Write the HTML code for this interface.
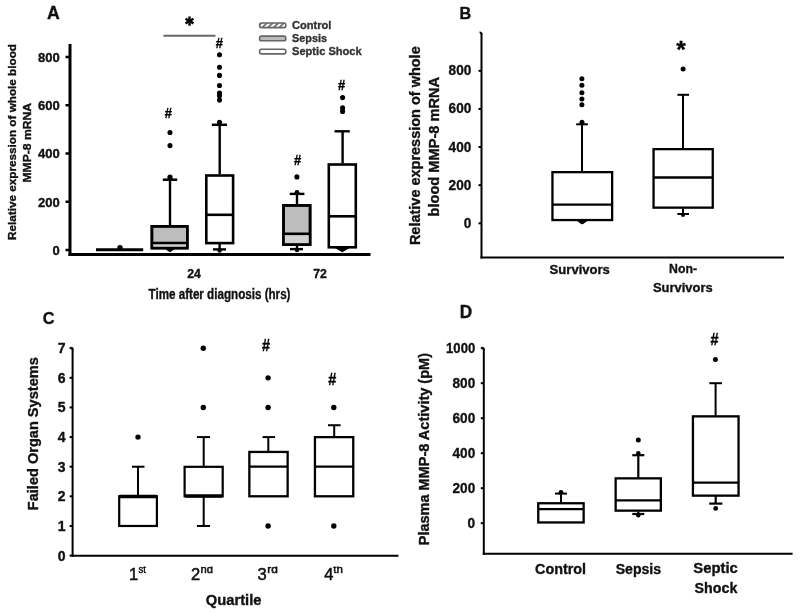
<!DOCTYPE html>
<html><head><meta charset="utf-8"><style>
html,body{margin:0;padding:0;background:#fff;width:800px;height:614px;overflow:hidden}
svg{display:block}
#w{will-change:transform;width:800px;height:614px}
text{font-family:"Liberation Sans",sans-serif}
</style></head><body>
<div id="w"><svg width="800" height="614" viewBox="0 0 800 614">
<rect width="800" height="614" fill="#fff"/>
<text x="47" y="18.6" font-size="18.5" font-weight="bold" text-anchor="start" fill="#111" stroke="#111" stroke-width="0.35" textLength="12.8" lengthAdjust="spacingAndGlyphs">A</text>
<line x1="70" y1="44" x2="70" y2="256" stroke="#000" stroke-width="3"/>
<line x1="68.5" y1="254.5" x2="370.5" y2="254.5" stroke="#000" stroke-width="3"/>
<line x1="65.5" y1="250.0" x2="70" y2="250.0" stroke="#000" stroke-width="2.5"/>
<text x="59.8" y="254.8" font-size="13" font-weight="bold" text-anchor="end" fill="#111" stroke="#111" stroke-width="0.35">0</text>
<line x1="65.5" y1="201.75" x2="70" y2="201.75" stroke="#000" stroke-width="2.5"/>
<text x="59.8" y="206.55" font-size="13" font-weight="bold" text-anchor="end" fill="#111" stroke="#111" stroke-width="0.35">200</text>
<line x1="65.5" y1="153.5" x2="70" y2="153.5" stroke="#000" stroke-width="2.5"/>
<text x="59.8" y="158.3" font-size="13" font-weight="bold" text-anchor="end" fill="#111" stroke="#111" stroke-width="0.35">400</text>
<line x1="65.5" y1="105.25" x2="70" y2="105.25" stroke="#000" stroke-width="2.5"/>
<text x="59.8" y="110.05" font-size="13" font-weight="bold" text-anchor="end" fill="#111" stroke="#111" stroke-width="0.35">600</text>
<line x1="65.5" y1="57.0" x2="70" y2="57.0" stroke="#000" stroke-width="2.5"/>
<text x="59.8" y="61.8" font-size="13" font-weight="bold" text-anchor="end" fill="#111" stroke="#111" stroke-width="0.35">800</text>
<text x="194" y="278.3" font-size="13" font-weight="bold" text-anchor="middle" fill="#111" stroke="#111" stroke-width="0.35" textLength="13.6" lengthAdjust="spacingAndGlyphs">24</text>
<text x="320" y="278.3" font-size="13" font-weight="bold" text-anchor="middle" fill="#111" stroke="#111" stroke-width="0.35" textLength="13.6" lengthAdjust="spacingAndGlyphs">72</text>
<text x="148.5" y="298.8" font-size="14" font-weight="bold" text-anchor="start" fill="#111" stroke="#111" stroke-width="0.35" textLength="142" lengthAdjust="spacingAndGlyphs">Time after diagnosis (hrs)</text>
<text x="15.8" y="240" font-size="11.6" font-weight="bold" text-anchor="start" fill="#111" stroke="#111" stroke-width="0.35" textLength="196" lengthAdjust="spacingAndGlyphs" transform="rotate(-90 15.8 240)">Relative expression of whole blood</text>
<text x="30.8" y="182.5" font-size="11.6" font-weight="bold" text-anchor="start" fill="#111" stroke="#111" stroke-width="0.35" textLength="79.5" lengthAdjust="spacingAndGlyphs" transform="rotate(-90 30.8 182.5)">MMP-8 mRNA</text>
<line x1="163.4" y1="35.7" x2="215.5" y2="35.7" stroke="#666" stroke-width="2"/>
<line x1="189.5" y1="16.5" x2="189.5" y2="25.7" stroke="#000" stroke-width="2.4"/>
<line x1="185.52" y1="18.8" x2="193.48" y2="23.4" stroke="#000" stroke-width="2.4"/>
<line x1="193.48" y1="18.8" x2="185.52" y2="23.4" stroke="#000" stroke-width="2.4"/>
<circle cx="189.5" cy="21.1" r="2.2" fill="#000"/>
<defs><pattern id="hatch" width="4" height="4" patternUnits="userSpaceOnUse" patternTransform="rotate(45)"><rect width="4" height="4" fill="#fff"/><rect width="2" height="4" fill="#777"/></pattern></defs>
<rect x="259.6" y="23.0" width="26.2" height="4.6" rx="1.8" fill="url(#hatch)" stroke="#666" stroke-width="1.6"/>
<text x="292" y="28.8" font-size="11" font-weight="bold" text-anchor="start" fill="#333" stroke="#333" stroke-width="0.35" textLength="39.4" lengthAdjust="spacingAndGlyphs">Control</text>
<rect x="259.6" y="36.15" width="26.2" height="4.6" rx="1.8" fill="#bbb" stroke="#666" stroke-width="1.6"/>
<text x="292" y="41.95" font-size="11" font-weight="bold" text-anchor="start" fill="#333" stroke="#333" stroke-width="0.35" textLength="35" lengthAdjust="spacingAndGlyphs">Sepsis</text>
<rect x="259.6" y="49.300000000000004" width="26.2" height="4.6" rx="1.8" fill="#fff" stroke="#666" stroke-width="1.6"/>
<text x="292" y="55.10000000000001" font-size="11" font-weight="bold" text-anchor="start" fill="#333" stroke="#333" stroke-width="0.35" textLength="69.7" lengthAdjust="spacingAndGlyphs">Septic Shock</text>
<line x1="96" y1="249.7" x2="143.2" y2="249.7" stroke="#000" stroke-width="3"/>
<circle cx="120" cy="247.6" r="2.7" fill="#000"/>
<rect x="151.9" y="226.3" width="35.4" height="21.800000000000004" fill="#bdbdbd" stroke="#000" stroke-width="2.6"/>
<rect x="152" y="244.3" width="35.3" height="2.6" fill="#d2d2d2"/>
<line x1="151.9" y1="243" x2="187.3" y2="243" stroke="#000" stroke-width="2.6"/>
<rect x="151.9" y="226.3" width="35.4" height="21.800000000000004" fill="none" stroke="#000" stroke-width="2.6"/>
<line x1="170" y1="225" x2="170" y2="179.7" stroke="#000" stroke-width="2.4"/>
<line x1="162.8" y1="179.7" x2="177.2" y2="179.7" stroke="#000" stroke-width="2.5"/>
<circle cx="170" cy="177.2" r="2.6" fill="#000"/>
<circle cx="170" cy="132.5" r="2.55" fill="#000"/>
<circle cx="170" cy="145.6" r="2.55" fill="#000"/>
<text x="168.3" y="118.3" font-size="14" font-weight="bold" text-anchor="middle" fill="#000" stroke="#000" stroke-width="0.35" textLength="7.2" lengthAdjust="spacingAndGlyphs">#</text>
<path d="M163.5,248 L176.2,248 L170,252.3 Z" fill="#000"/>
<rect x="206.3" y="175.5" width="26.800000000000004" height="67.60000000000002" fill="#fff" stroke="#000" stroke-width="2.6"/>
<line x1="206.3" y1="214.8" x2="233.1" y2="214.8" stroke="#000" stroke-width="2.6"/>
<line x1="219.7" y1="174.2" x2="219.7" y2="124.8" stroke="#000" stroke-width="2.4"/>
<line x1="211.8" y1="124.8" x2="227" y2="124.8" stroke="#000" stroke-width="2.5"/>
<circle cx="219.5" cy="54.7" r="2.55" fill="#000"/>
<circle cx="219.5" cy="67.2" r="2.55" fill="#000"/>
<circle cx="219.5" cy="75.4" r="2.55" fill="#000"/>
<circle cx="219.5" cy="85.5" r="2.55" fill="#000"/>
<circle cx="219.5" cy="93" r="2.55" fill="#000"/>
<circle cx="219.5" cy="95.7" r="2.55" fill="#000"/>
<circle cx="219.5" cy="100.1" r="2.55" fill="#000"/>
<circle cx="219.5" cy="122.4" r="2.55" fill="#000"/>
<text x="219.4" y="47.7" font-size="14" font-weight="bold" text-anchor="middle" fill="#000" stroke="#000" stroke-width="0.35" textLength="7.2" lengthAdjust="spacingAndGlyphs">#</text>
<line x1="219.6" y1="244" x2="219.6" y2="249.4" stroke="#000" stroke-width="2.4"/>
<line x1="213" y1="249.4" x2="226" y2="249.4" stroke="#000" stroke-width="2.4"/>
<circle cx="219.6" cy="250.5" r="2.2" fill="#000"/>
<rect x="283.5" y="205.4" width="26.599999999999987" height="39.20000000000001" fill="#bdbdbd" stroke="#000" stroke-width="2.6"/>
<rect x="283.5" y="235" width="26.6" height="8.4" fill="#d2d2d2"/>
<line x1="283.5" y1="233.8" x2="310.1" y2="233.8" stroke="#000" stroke-width="2.6"/>
<rect x="283.5" y="205.4" width="26.599999999999987" height="39.20000000000001" fill="none" stroke="#000" stroke-width="2.6"/>
<line x1="297" y1="204.1" x2="297" y2="193.9" stroke="#000" stroke-width="2.4"/>
<line x1="289.7" y1="193.9" x2="304.4" y2="193.9" stroke="#000" stroke-width="2.4"/>
<circle cx="297" cy="192.5" r="2.4" fill="#000"/>
<circle cx="296.9" cy="176.9" r="2.55" fill="#000"/>
<text x="297.5" y="164.5" font-size="14" font-weight="bold" text-anchor="middle" fill="#000" stroke="#000" stroke-width="0.35" textLength="7.2" lengthAdjust="spacingAndGlyphs">#</text>
<line x1="297" y1="245.9" x2="297" y2="249.1" stroke="#000" stroke-width="2.4"/>
<line x1="290" y1="249.1" x2="303" y2="249.1" stroke="#000" stroke-width="2.4"/>
<circle cx="297" cy="250" r="2.2" fill="#000"/>
<rect x="328.8" y="164.5" width="27.00000000000002" height="82.80000000000001" fill="#fff" stroke="#000" stroke-width="2.6"/>
<line x1="328.8" y1="216.3" x2="355.8" y2="216.3" stroke="#000" stroke-width="2.6"/>
<line x1="342.6" y1="163.4" x2="342.6" y2="131.3" stroke="#000" stroke-width="2.4"/>
<line x1="334.5" y1="131.3" x2="349.8" y2="131.3" stroke="#000" stroke-width="2.4"/>
<circle cx="342.6" cy="97.6" r="2.55" fill="#000"/>
<circle cx="342.6" cy="107.9" r="2.55" fill="#000"/>
<circle cx="342.6" cy="111.4" r="2.55" fill="#000"/>
<text x="341.7" y="89.6" font-size="14" font-weight="bold" text-anchor="middle" fill="#000" stroke="#000" stroke-width="0.35" textLength="7.2" lengthAdjust="spacingAndGlyphs">#</text>
<path d="M334.5,247.8 L350,247.8 L342.4,252.2 Z" fill="#000"/>
<text x="459.6" y="18.6" font-size="16" font-weight="bold" text-anchor="start" fill="#111" stroke="#111" stroke-width="0.35" textLength="11.7" lengthAdjust="spacingAndGlyphs">B</text>
<line x1="481.5" y1="33.2" x2="481.5" y2="258.5" stroke="#000" stroke-width="2"/>
<path d="M479.6,32.4 Q481.5,32.2 481.5,34.5" fill="none" stroke="#000" stroke-width="2"/>
<line x1="480.5" y1="257.5" x2="784" y2="257.5" stroke="#000" stroke-width="2"/>
<line x1="478.5" y1="223.3" x2="481.5" y2="223.3" stroke="#000" stroke-width="2"/>
<text x="471.3" y="227.8" font-size="14.5" font-weight="bold" text-anchor="end" fill="#111" stroke="#111" stroke-width="0.35" textLength="7.6" lengthAdjust="spacingAndGlyphs">0</text>
<line x1="478.5" y1="185.175" x2="481.5" y2="185.175" stroke="#000" stroke-width="2"/>
<text x="471.3" y="189.675" font-size="14.5" font-weight="bold" text-anchor="end" fill="#111" stroke="#111" stroke-width="0.35" textLength="22.7" lengthAdjust="spacingAndGlyphs">200</text>
<line x1="478.5" y1="147.05" x2="481.5" y2="147.05" stroke="#000" stroke-width="2"/>
<text x="471.3" y="151.55" font-size="14.5" font-weight="bold" text-anchor="end" fill="#111" stroke="#111" stroke-width="0.35" textLength="22.7" lengthAdjust="spacingAndGlyphs">400</text>
<line x1="478.5" y1="108.92500000000001" x2="481.5" y2="108.92500000000001" stroke="#000" stroke-width="2"/>
<text x="471.3" y="113.42500000000001" font-size="14.5" font-weight="bold" text-anchor="end" fill="#111" stroke="#111" stroke-width="0.35" textLength="22.7" lengthAdjust="spacingAndGlyphs">600</text>
<line x1="478.5" y1="70.80000000000001" x2="481.5" y2="70.80000000000001" stroke="#000" stroke-width="2"/>
<text x="471.3" y="75.30000000000001" font-size="14.5" font-weight="bold" text-anchor="end" fill="#111" stroke="#111" stroke-width="0.35" textLength="22.7" lengthAdjust="spacingAndGlyphs">800</text>
<rect x="552.4499999999999" y="172.15" width="59.7" height="47.89999999999999" fill="#fff" stroke="#000" stroke-width="2.3"/>
<line x1="552.4499999999999" y1="204.6" x2="612.15" y2="204.6" stroke="#000" stroke-width="2.3"/>
<line x1="582" y1="171" x2="582" y2="124.3" stroke="#000" stroke-width="2"/>
<line x1="576.2" y1="124.3" x2="587.9" y2="124.3" stroke="#000" stroke-width="2"/>
<circle cx="582" cy="122.3" r="2.5" fill="#000"/>
<circle cx="581.9" cy="78.7" r="2.5" fill="#000"/>
<circle cx="581.9" cy="85.3" r="2.5" fill="#000"/>
<circle cx="581.9" cy="92.7" r="2.5" fill="#000"/>
<circle cx="581.9" cy="99" r="2.5" fill="#000"/>
<circle cx="581.9" cy="104.7" r="2.5" fill="#000"/>
<path d="M576.6,220.6 L588,220.6 L584.5,223 Q582.2,225.4 579.8,223 Z" fill="#000"/>
<rect x="653.55" y="149.15" width="59.2" height="58.500000000000014" fill="#fff" stroke="#000" stroke-width="2.3"/>
<line x1="653.55" y1="177.5" x2="712.75" y2="177.5" stroke="#000" stroke-width="2.3"/>
<line x1="683" y1="148.1" x2="683" y2="94.8" stroke="#000" stroke-width="2"/>
<line x1="677.4" y1="94.8" x2="689" y2="94.8" stroke="#000" stroke-width="2"/>
<circle cx="683.1" cy="69.1" r="2.5" fill="#000"/>
<text x="676.3" y="58.0" font-size="24.5" font-weight="bold" text-anchor="start" fill="#000" stroke="#000" stroke-width="0.35">*</text>
<line x1="683" y1="208.6" x2="683" y2="214" stroke="#000" stroke-width="2"/>
<line x1="677.4" y1="214" x2="689" y2="214" stroke="#000" stroke-width="2"/>
<circle cx="683" cy="215" r="2" fill="#000"/>
<text x="549.6" y="274.2" font-size="13.4" font-weight="bold" text-anchor="start" fill="#111" stroke="#111" stroke-width="0.35" textLength="60.3" lengthAdjust="spacingAndGlyphs">Survivors</text>
<text x="669" y="273.4" font-size="13.4" font-weight="bold" text-anchor="start" fill="#111" stroke="#111" stroke-width="0.35" textLength="28" lengthAdjust="spacingAndGlyphs">Non-</text>
<text x="653" y="292.4" font-size="13.4" font-weight="bold" text-anchor="start" fill="#111" stroke="#111" stroke-width="0.35" textLength="59.6" lengthAdjust="spacingAndGlyphs">Survivors</text>
<text x="420.3" y="245.1" font-size="14" font-weight="bold" text-anchor="start" fill="#111" stroke="#111" stroke-width="0.35" textLength="198.8" lengthAdjust="spacingAndGlyphs" transform="rotate(-90 420.3 245.1)">Relative expression of whole</text>
<text x="439.3" y="216.5" font-size="14" font-weight="bold" text-anchor="start" fill="#111" stroke="#111" stroke-width="0.35" textLength="139.6" lengthAdjust="spacingAndGlyphs" transform="rotate(-90 439.3 216.5)">blood MMP-8 mRNA</text>
<text x="42.8" y="323.6" font-size="17" font-weight="bold" text-anchor="start" fill="#111" stroke="#111" stroke-width="0.35" textLength="11.8" lengthAdjust="spacingAndGlyphs">C</text>
<line x1="72.6" y1="348.6" x2="72.6" y2="556.7" stroke="#000" stroke-width="2"/>
<path d="M70.7,347.8 Q72.6,347.6 72.6,349.9" fill="none" stroke="#000" stroke-width="2"/>
<line x1="71.6" y1="555.7" x2="398.5" y2="555.7" stroke="#000" stroke-width="2"/>
<line x1="69.6" y1="555.6" x2="72.6" y2="555.6" stroke="#000" stroke-width="2"/>
<text x="65.6" y="560.6" font-size="14" font-weight="bold" text-anchor="end" fill="#111" stroke="#111" stroke-width="0.35">0</text>
<line x1="69.6" y1="525.9714285714285" x2="72.6" y2="525.9714285714285" stroke="#000" stroke-width="2"/>
<text x="65.6" y="530.9714285714285" font-size="14" font-weight="bold" text-anchor="end" fill="#111" stroke="#111" stroke-width="0.35">1</text>
<line x1="69.6" y1="496.34285714285716" x2="72.6" y2="496.34285714285716" stroke="#000" stroke-width="2"/>
<text x="65.6" y="501.34285714285716" font-size="14" font-weight="bold" text-anchor="end" fill="#111" stroke="#111" stroke-width="0.35">2</text>
<line x1="69.6" y1="466.7142857142857" x2="72.6" y2="466.7142857142857" stroke="#000" stroke-width="2"/>
<text x="65.6" y="471.7142857142857" font-size="14" font-weight="bold" text-anchor="end" fill="#111" stroke="#111" stroke-width="0.35">3</text>
<line x1="69.6" y1="437.0857142857143" x2="72.6" y2="437.0857142857143" stroke="#000" stroke-width="2"/>
<text x="65.6" y="442.0857142857143" font-size="14" font-weight="bold" text-anchor="end" fill="#111" stroke="#111" stroke-width="0.35">4</text>
<line x1="69.6" y1="407.45714285714286" x2="72.6" y2="407.45714285714286" stroke="#000" stroke-width="2"/>
<text x="65.6" y="412.45714285714286" font-size="14" font-weight="bold" text-anchor="end" fill="#111" stroke="#111" stroke-width="0.35">5</text>
<line x1="69.6" y1="377.8285714285714" x2="72.6" y2="377.8285714285714" stroke="#000" stroke-width="2"/>
<text x="65.6" y="382.8285714285714" font-size="14" font-weight="bold" text-anchor="end" fill="#111" stroke="#111" stroke-width="0.35">6</text>
<line x1="69.6" y1="348.2" x2="72.6" y2="348.2" stroke="#000" stroke-width="2"/>
<text x="65.6" y="353.2" font-size="14" font-weight="bold" text-anchor="end" fill="#111" stroke="#111" stroke-width="0.35">7</text>
<rect x="119.19999999999999" y="496.2428571428572" width="37.7" height="29.72857142857139" fill="#fff" stroke="#000" stroke-width="2.2"/>
<line x1="119.2" y1="496.54285714285714" x2="156.7" y2="496.54285714285714" stroke="#000" stroke-width="3.6"/>
<line x1="138" y1="496.34285714285716" x2="138" y2="466.7142857142857" stroke="#000" stroke-width="2"/>
<line x1="131.9" y1="466.7142857142857" x2="144.5" y2="466.7142857142857" stroke="#000" stroke-width="2"/>
<circle cx="138" cy="437.0857142857143" r="2.7" fill="#000"/>
<rect x="184.6" y="466.81428571428575" width="38.10000000000001" height="29.428571428571434" fill="#fff" stroke="#000" stroke-width="2.2"/>
<line x1="184.9" y1="496.04285714285714" x2="222.8" y2="496.04285714285714" stroke="#000" stroke-width="3.6"/>
<line x1="203.7" y1="466.7142857142857" x2="203.7" y2="437.0857142857143" stroke="#000" stroke-width="2"/>
<line x1="196.9" y1="437.0857142857143" x2="210.1" y2="437.0857142857143" stroke="#000" stroke-width="2"/>
<line x1="203.7" y1="496.34285714285716" x2="203.7" y2="525.9714285714285" stroke="#000" stroke-width="2"/>
<line x1="196.9" y1="525.9714285714285" x2="210.1" y2="525.9714285714285" stroke="#000" stroke-width="2"/>
<circle cx="203.3" cy="407.45714285714286" r="2.7" fill="#000"/>
<circle cx="203.3" cy="348.2" r="2.7" fill="#000"/>
<rect x="249.35" y="451.94999999999993" width="38.300000000000026" height="44.34285714285723" fill="#fff" stroke="#000" stroke-width="2.3"/>
<line x1="249.35" y1="466.7142857142857" x2="287.65000000000003" y2="466.7142857142857" stroke="#000" stroke-width="2.3"/>
<line x1="268.3" y1="451.9" x2="268.3" y2="437.0857142857143" stroke="#000" stroke-width="2"/>
<line x1="262.6" y1="437.0857142857143" x2="275.1" y2="437.0857142857143" stroke="#000" stroke-width="2"/>
<circle cx="268.1" cy="407.45714285714286" r="2.7" fill="#000"/>
<circle cx="268.1" cy="377.8285714285714" r="2.7" fill="#000"/>
<circle cx="268.1" cy="525.9714285714285" r="2.7" fill="#000"/>
<text x="265.9" y="351.2" font-size="16.9" font-weight="bold" text-anchor="middle" fill="#000" stroke="#000" stroke-width="0.35" textLength="8.0" lengthAdjust="spacingAndGlyphs">#</text>
<rect x="314.95" y="437.13571428571424" width="38.29999999999997" height="59.157142857142915" fill="#fff" stroke="#000" stroke-width="2.3"/>
<line x1="314.95" y1="466.7142857142857" x2="353.25" y2="466.7142857142857" stroke="#000" stroke-width="2.3"/>
<line x1="334.2" y1="437.0857142857143" x2="334.2" y2="425.2342857142857" stroke="#000" stroke-width="2"/>
<line x1="328" y1="425.2342857142857" x2="340.6" y2="425.2342857142857" stroke="#000" stroke-width="2"/>
<circle cx="333.8" cy="407.45714285714286" r="2.7" fill="#000"/>
<circle cx="333.8" cy="525.9714285714285" r="2.7" fill="#000"/>
<text x="332.3" y="385.4" font-size="16.9" font-weight="bold" text-anchor="middle" fill="#000" stroke="#000" stroke-width="0.35" textLength="8.0" lengthAdjust="spacingAndGlyphs">#</text>
<defs><clipPath id="supclip"><rect x="0" y="566.6" width="800" height="20"/></clipPath></defs>
<text x="128.9" y="580.3" font-size="16.5" font-weight="normal" text-anchor="start" fill="#111" stroke="#111" stroke-width="0.5">1</text>
<text x="138.4" y="572.6" font-size="10.6" font-weight="normal" text-anchor="start" fill="#111" stroke="#111" stroke-width="0.5" textLength="7.4" lengthAdjust="spacingAndGlyphs" clip-path="url(#supclip)">st</text>
<text x="191.0" y="580.3" font-size="16.5" font-weight="normal" text-anchor="start" fill="#111" stroke="#111" stroke-width="0.5">2</text>
<text x="200.6" y="572.6" font-size="10.6" font-weight="normal" text-anchor="start" fill="#111" stroke="#111" stroke-width="0.5" textLength="12.4" lengthAdjust="spacingAndGlyphs" clip-path="url(#supclip)">nd</text>
<text x="257.6" y="580.3" font-size="16.5" font-weight="normal" text-anchor="start" fill="#111" stroke="#111" stroke-width="0.5">3</text>
<text x="267.3" y="572.6" font-size="10.6" font-weight="normal" text-anchor="start" fill="#111" stroke="#111" stroke-width="0.5" textLength="10.6" lengthAdjust="spacingAndGlyphs" clip-path="url(#supclip)">rd</text>
<text x="324.25" y="580.3" font-size="16.5" font-weight="normal" text-anchor="start" fill="#111" stroke="#111" stroke-width="0.5">4</text>
<text x="333.3" y="572.6" font-size="10.6" font-weight="normal" text-anchor="start" fill="#111" stroke="#111" stroke-width="0.5" textLength="9.6" lengthAdjust="spacingAndGlyphs" clip-path="url(#supclip)">th</text>
<text x="205.8" y="604.9" font-size="14.5" font-weight="bold" text-anchor="start" fill="#111" stroke="#111" stroke-width="0.35" textLength="55.7" lengthAdjust="spacingAndGlyphs">Quartile</text>
<text x="38.4" y="510.2" font-size="14.3" font-weight="bold" text-anchor="start" fill="#111" stroke="#111" stroke-width="0.35" textLength="153" lengthAdjust="spacingAndGlyphs" transform="rotate(-90 38.4 510.2)">Failed Organ Systems</text>
<text x="459.7" y="317.9" font-size="17.5" font-weight="bold" text-anchor="start" fill="#111" stroke="#111" stroke-width="0.35" textLength="12.4" lengthAdjust="spacingAndGlyphs">D</text>
<line x1="483.8" y1="348.6" x2="483.8" y2="554.8" stroke="#000" stroke-width="2"/>
<path d="M481.9,347.8 Q483.8,347.6 483.8,349.9" fill="none" stroke="#000" stroke-width="2"/>
<line x1="482.8" y1="553.8" x2="792.6" y2="553.8" stroke="#000" stroke-width="2"/>
<line x1="480.8" y1="523.2" x2="483.8" y2="523.2" stroke="#000" stroke-width="2"/>
<text x="475.2" y="527.8000000000001" font-size="14.5" font-weight="bold" text-anchor="end" fill="#111" stroke="#111" stroke-width="0.35" textLength="7.6" lengthAdjust="spacingAndGlyphs">0</text>
<line x1="480.8" y1="488.20000000000005" x2="483.8" y2="488.20000000000005" stroke="#000" stroke-width="2"/>
<text x="475.2" y="492.80000000000007" font-size="14.5" font-weight="bold" text-anchor="end" fill="#111" stroke="#111" stroke-width="0.35" textLength="22.7" lengthAdjust="spacingAndGlyphs">200</text>
<line x1="480.8" y1="453.20000000000005" x2="483.8" y2="453.20000000000005" stroke="#000" stroke-width="2"/>
<text x="475.2" y="457.80000000000007" font-size="14.5" font-weight="bold" text-anchor="end" fill="#111" stroke="#111" stroke-width="0.35" textLength="22.7" lengthAdjust="spacingAndGlyphs">400</text>
<line x1="480.8" y1="418.20000000000005" x2="483.8" y2="418.20000000000005" stroke="#000" stroke-width="2"/>
<text x="475.2" y="422.80000000000007" font-size="14.5" font-weight="bold" text-anchor="end" fill="#111" stroke="#111" stroke-width="0.35" textLength="22.7" lengthAdjust="spacingAndGlyphs">600</text>
<line x1="480.8" y1="383.20000000000005" x2="483.8" y2="383.20000000000005" stroke="#000" stroke-width="2"/>
<text x="475.2" y="387.80000000000007" font-size="14.5" font-weight="bold" text-anchor="end" fill="#111" stroke="#111" stroke-width="0.35" textLength="22.7" lengthAdjust="spacingAndGlyphs">800</text>
<line x1="480.8" y1="348.20000000000005" x2="483.8" y2="348.20000000000005" stroke="#000" stroke-width="2"/>
<text x="475.2" y="352.80000000000007" font-size="14.5" font-weight="bold" text-anchor="end" fill="#111" stroke="#111" stroke-width="0.35" textLength="29.1" lengthAdjust="spacingAndGlyphs">1000</text>
<rect x="538.25" y="503.25" width="45.399999999999935" height="19.2" fill="#fff" stroke="#000" stroke-width="2.3"/>
<line x1="538.25" y1="509.2" x2="583.65" y2="509.2" stroke="#000" stroke-width="2.3"/>
<line x1="561" y1="502.6" x2="561" y2="493.6" stroke="#000" stroke-width="2"/>
<line x1="555" y1="493.6" x2="567" y2="493.6" stroke="#000" stroke-width="2"/>
<circle cx="561" cy="492.4" r="2.4" fill="#000"/>
<rect x="615.65" y="478.34999999999997" width="45.2" height="32.300000000000026" fill="#fff" stroke="#000" stroke-width="2.3"/>
<line x1="615.65" y1="500.4" x2="660.85" y2="500.4" stroke="#000" stroke-width="2.3"/>
<line x1="638.3" y1="478" x2="638.3" y2="455.2" stroke="#000" stroke-width="2.2"/>
<line x1="632.3" y1="455.2" x2="644.3" y2="455.2" stroke="#000" stroke-width="2.2"/>
<circle cx="638.3" cy="453.4" r="2.3" fill="#000"/>
<circle cx="638.3" cy="440" r="2.5" fill="#000"/>
<line x1="638.3" y1="511.6" x2="638.3" y2="514" stroke="#000" stroke-width="2.2"/>
<line x1="632.3" y1="514" x2="644.3" y2="514" stroke="#000" stroke-width="2.2"/>
<circle cx="638.3" cy="515.2" r="2.2" fill="#000"/>
<rect x="692.9499999999999" y="416.34999999999997" width="45.600000000000094" height="79.30000000000003" fill="#fff" stroke="#000" stroke-width="2.3"/>
<line x1="692.9499999999999" y1="482.6" x2="738.5500000000001" y2="482.6" stroke="#000" stroke-width="2.3"/>
<line x1="715.6" y1="415.9" x2="715.6" y2="383.2" stroke="#000" stroke-width="2"/>
<line x1="709.3" y1="383.2" x2="722" y2="383.2" stroke="#000" stroke-width="2"/>
<circle cx="715.4" cy="359.5" r="2.5" fill="#000"/>
<text x="714.5" y="345.0" font-size="16.9" font-weight="bold" text-anchor="middle" fill="#000" stroke="#000" stroke-width="0.35" textLength="8.0" lengthAdjust="spacingAndGlyphs">#</text>
<line x1="715.7" y1="496" x2="715.7" y2="503.6" stroke="#000" stroke-width="2.2"/>
<line x1="709.2" y1="503.6" x2="722.4" y2="503.6" stroke="#000" stroke-width="2.2"/>
<circle cx="715.7" cy="508.4" r="2.4" fill="#000"/>
<text x="535.1" y="573.6" font-size="14" font-weight="bold" text-anchor="start" fill="#111" stroke="#111" stroke-width="0.35" textLength="51" lengthAdjust="spacingAndGlyphs">Control</text>
<text x="615.7" y="573.6" font-size="14" font-weight="bold" text-anchor="start" fill="#111" stroke="#111" stroke-width="0.35" textLength="45.4" lengthAdjust="spacingAndGlyphs">Sepsis</text>
<text x="693.3" y="572.8" font-size="14" font-weight="bold" text-anchor="start" fill="#111" stroke="#111" stroke-width="0.35" textLength="44.5" lengthAdjust="spacingAndGlyphs">Septic</text>
<text x="694.6" y="593.2" font-size="14" font-weight="bold" text-anchor="start" fill="#111" stroke="#111" stroke-width="0.35" textLength="42.7" lengthAdjust="spacingAndGlyphs">Shock</text>
<text x="429" y="545.3" font-size="14" font-weight="bold" text-anchor="start" fill="#111" stroke="#111" stroke-width="0.35" textLength="192.3" lengthAdjust="spacingAndGlyphs" transform="rotate(-90 429 545.3)">Plasma MMP-8 Activity (pM)</text>
</svg></div>
</body></html>
